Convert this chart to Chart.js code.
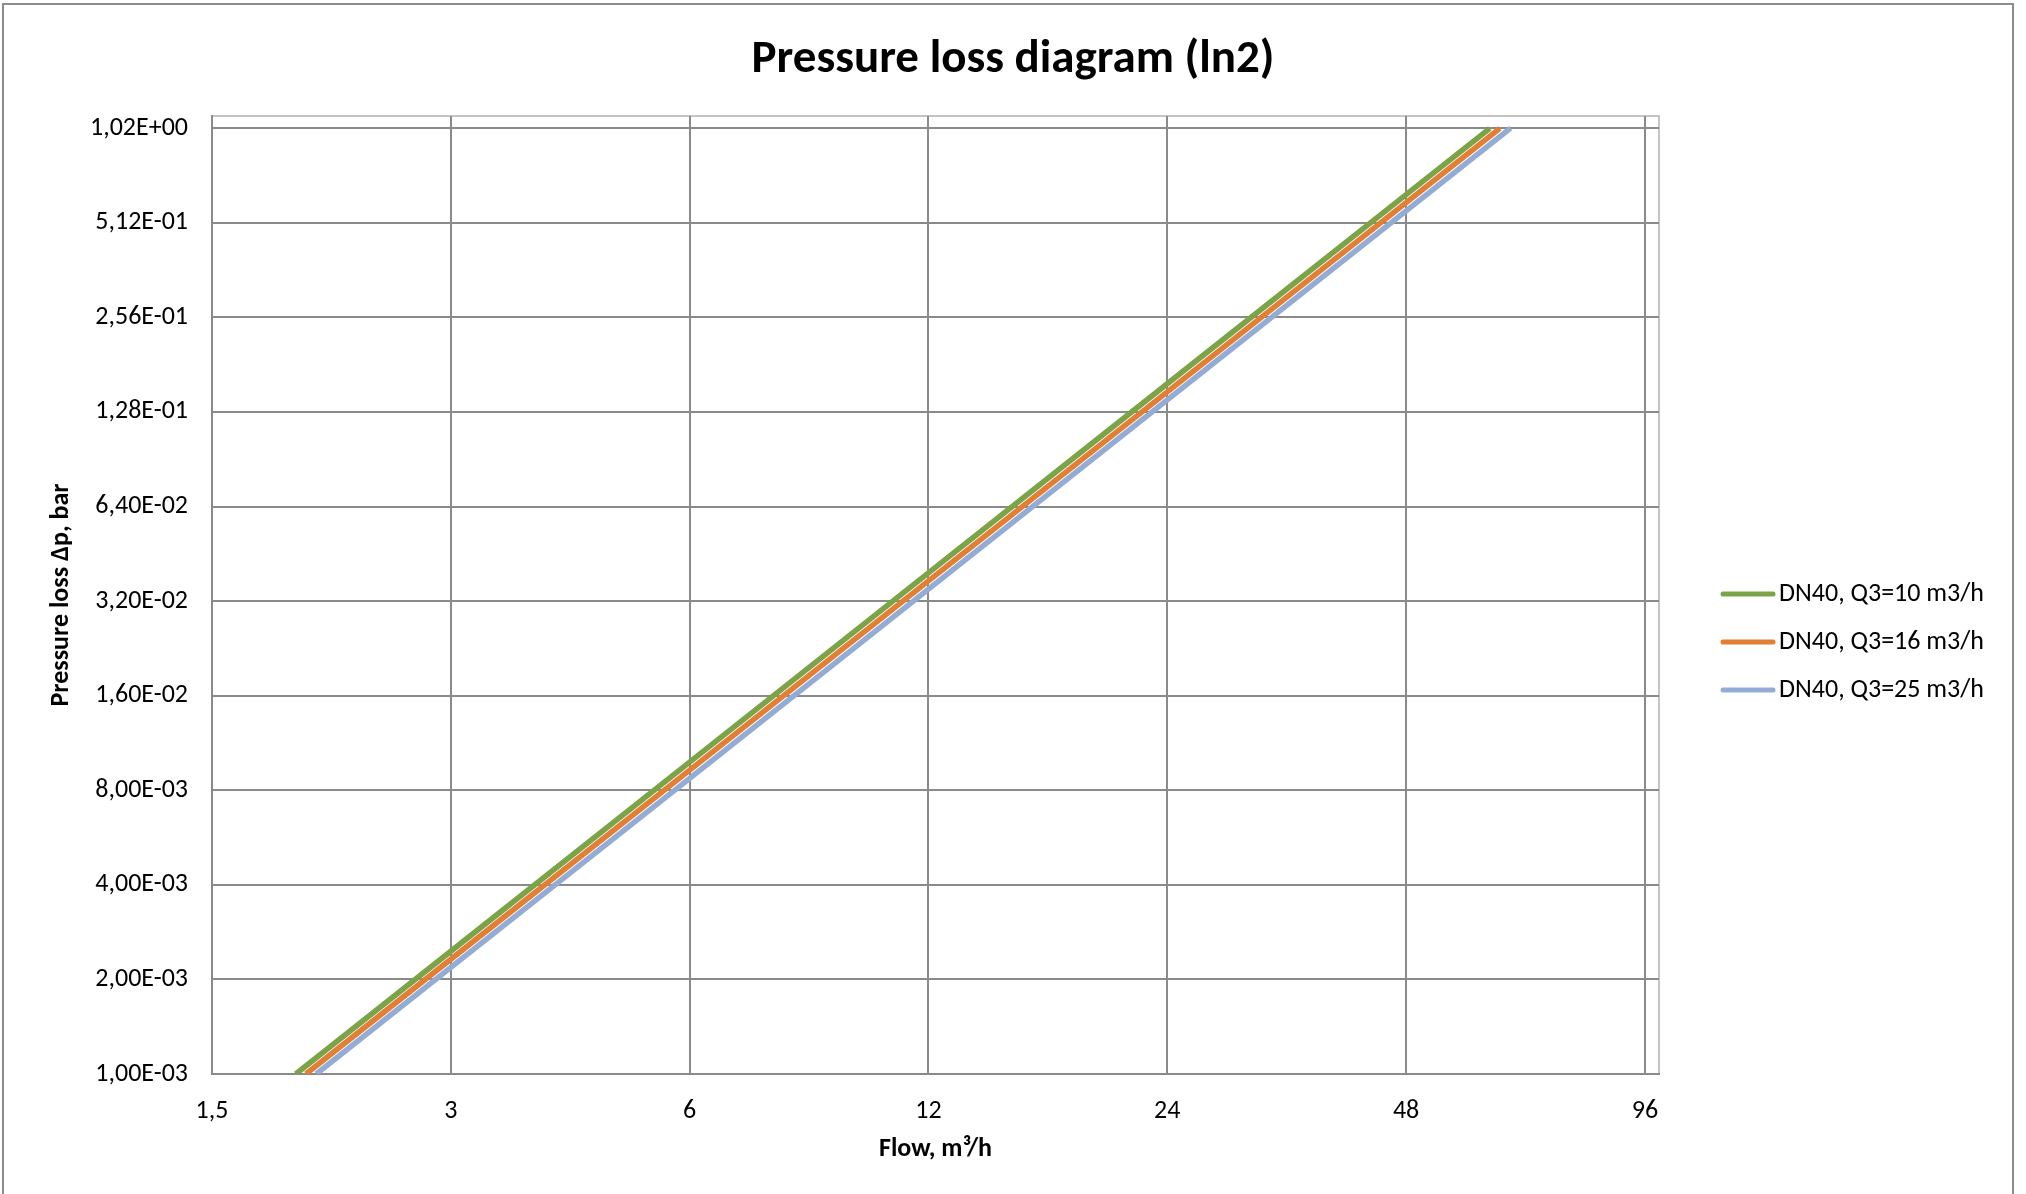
<!DOCTYPE html>
<html>
<head>
<meta charset="utf-8">
<script src="https://cdn.jsdelivr.net/npm/chart.js@4/dist/chart.umd.min.js"></script>
<style>
  html, body { margin: 0; padding: 0; background: #fff; }
  #wrap { width: 2026px; height: 1194px; position: relative; }
</style>
</head>
<body>
<div id="wrap"><canvas id="chart" width="2026" height="1194"></canvas></div>
<script>
// chart values
var seriesNames = ["DN40, Q3=10 m3/h", "DN40, Q3=16 m3/h", "DN40, Q3=25 m3/h"];
var seriesColors = ["#7aa447", "#e27f35", "#92acd6"];

var flowGreen = [1.913, 3, 6, 12, 24, 48, 61.2];
var lossGreen = [0.001, 0.002459, 0.009835, 0.03934, 0.1574, 0.6295, 1.0233];
var flowOrange = [1.970, 3, 6, 12, 24, 48, 63.0];
var lossOrange = [0.001, 0.002319, 0.009275, 0.0371, 0.1484, 0.5936, 1.0226];
var flowBlue = [2.030, 3, 6, 12, 24, 48, 65.0];
var lossBlue = [0.001, 0.002184, 0.008734, 0.03494, 0.1398, 0.559, 1.0251];

var xTicks = [1.5, 3, 6, 12, 24, 48, 96];
var xTickLabels = ["1,5", "3", "6", "12", "24", "48", "96"];
var yTicks = [0.001, 0.002, 0.004, 0.008, 0.016, 0.032, 0.064, 0.128, 0.256, 0.512, 1.024];
var yTickLabels = ["1,00E-03", "2,00E-03", "4,00E-03", "8,00E-03", "1,60E-02", "3,20E-02",
                   "6,40E-02", "1,28E-01", "2,56E-01", "5,12E-01", "1,02E+00"];

var FONT = "Carlito, Lato, 'Open Sans', sans-serif";

function pts(xs, ys) {
  return xs.map(function (x, i) { return { x: x, y: ys[i] }; });
}

var flows = [flowGreen, flowOrange, flowBlue];
var losses = [lossGreen, lossOrange, lossBlue];

var datasets = seriesNames.map(function (name, i) {
  return {
    label: name,
    data: pts(flows[i], losses[i]),
    borderColor: seriesColors[i],
    backgroundColor: seriesColors[i],
    borderWidth: 5.5,
    pointRadius: 0,
    tension: 0,
    fill: false
  };
});

// frame, titles and legend
var decor = {
  id: 'decor',
  beforeDraw: function (chart) {
    var ctx = chart.ctx, a = chart.chartArea;
    ctx.save();
    ctx.fillStyle = '#fff';
    ctx.fillRect(0, 0, chart.width, chart.height);
    ctx.strokeStyle = '#8c8c8c';
    ctx.lineWidth = 2;
    ctx.strokeRect(3, 4, 2010, 1250);
    ctx.strokeStyle = '#c4c4c4';
    ctx.lineWidth = 2;
    ctx.strokeRect(a.left, a.top, a.right - a.left, a.bottom - a.top);
    ctx.restore();
  },
  afterDraw: function (chart) {
    var ctx = chart.ctx, a = chart.chartArea;
    ctx.save();
    ctx.fillStyle = '#000';
    ctx.textAlign = 'center';
    ctx.textBaseline = 'middle';
    ctx.font = 'bold 47px ' + FONT;
    ctx.fillText('Pressure loss diagram (ln2)', 1013, 60);
    ctx.font = 'bold 26px ' + FONT;
    ctx.fillText('Flow, m\u00b3/h', (a.left + a.right) / 2, 1149);
    ctx.translate(61, (a.top + a.bottom) / 2);
    ctx.rotate(-Math.PI / 2);
    ctx.fillText('Pressure loss \u0394p, bar', 0, 0);
    ctx.restore();

    ctx.save();
    ctx.font = '26px ' + FONT;
    ctx.textAlign = 'left';
    ctx.textBaseline = 'middle';
    ctx.lineCap = 'round';
    var ys = [594, 642, 690];
    chart.data.datasets.forEach(function (ds, i) {
      ctx.strokeStyle = ds.borderColor;
      ctx.lineWidth = 5;
      ctx.beginPath();
      ctx.moveTo(1723, ys[i]);
      ctx.lineTo(1773, ys[i]);
      ctx.stroke();
      ctx.fillStyle = '#000';
      ctx.fillText(ds.label, 1779, ys[i]);
    });
    ctx.restore();
  }
};

new Chart(document.getElementById('chart'), {
  type: 'line',
  data: { datasets: datasets },
  plugins: [decor],
  options: {
    responsive: false,
    animation: false,
    devicePixelRatio: 1,
    layout: { padding: { left: 0, right: 367, top: 116, bottom: 60 } },
    plugins: { legend: { display: false }, title: { display: false }, tooltip: { enabled: false } },
    scales: {
      x: {
        type: 'logarithmic',
        min: 1.5,
        max: 100,
        afterFit: function (s) { s.height = 60; },
        afterBuildTicks: function (s) { s.ticks = xTicks.map(function (v) { return { value: v }; }); },
        grid: { color: '#8a8a8a', lineWidth: 2, drawTicks: false },
        border: { color: '#8a8a8a', width: 2 },
        ticks: {
          padding: 22,
          maxRotation: 0,
          autoSkip: false,
          color: '#000',
          font: { family: FONT, size: 26 },
          callback: function (v) { var i = xTicks.indexOf(v); return i >= 0 ? xTickLabels[i] : ''; }
        }
      },
      y: {
        type: 'logarithmic',
        min: 0.001,
        max: 1.12,
        afterFit: function (s) { s.width = 212; },
        afterBuildTicks: function (s) { s.ticks = yTicks.map(function (v) { return { value: v }; }); },
        grid: { color: '#8a8a8a', lineWidth: 2, drawTicks: false },
        border: { color: '#8a8a8a', width: 2 },
        ticks: {
          padding: 24,
          autoSkip: false,
          color: '#000',
          font: { family: FONT, size: 26 },
          callback: function (v) { var i = yTicks.indexOf(v); return i >= 0 ? yTickLabels[i] : ''; }
        }
      }
    }
  }
});
</script>
</body>
</html>
